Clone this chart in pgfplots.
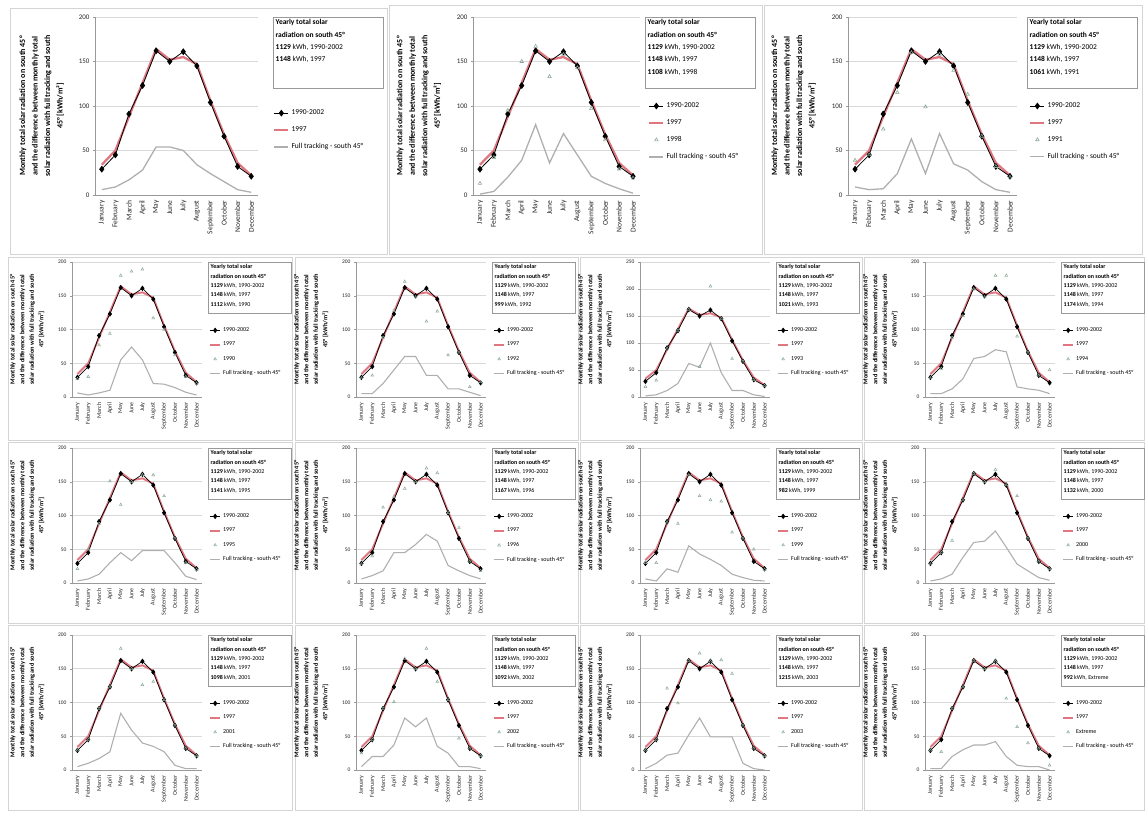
\documentclass[border=0pt]{standalone}
\usepackage{fontspec}
\setmainfont{Carlito}
\usepackage{pgfplots}
\pgfplotsset{compat=1.18}

\definecolor{redc}{RGB}{224,118,128}
\definecolor{thirdc}{RGB}{140,170,150}
\definecolor{fullc}{RGB}{175,175,175}
\definecolor{framec}{RGB}{212,212,212}

\tikzset{tbox/.style={draw=black!40, line width=0.4pt, anchor=north west, inner sep=2.5pt, fill=white}}

\pgfplotsset{
  base/.style={
    scale only axis, anchor=south west, clip=false,
    xmin=0.5, xmax=12.5, ymin=0, ymax=200,
    xtick={1,2,...,12},
    xticklabels={January,February,March,April,May,June,July,August,September,October,November,December},
    ytick={0,50,100,150,200},
    ymajorgrids, grid style={black!15, line width=0.5pt},
    axis x line*=bottom, axis y line*=left,
    axis line style={black!40, -},
    xtick style={draw=none},
    ytick style={black!40},
    tick align=outside, major tick length=2pt,
    x tick label style={rotate=90, anchor=east, text=black!85},
    y tick label style={text=black!85},
    /pgf/number format/assume math mode=true,
    legend cell align=left,
    legend style={draw=none, fill=none, inner sep=0pt, anchor=north west},
    ylabel={Monthly total solar radiation on south 45°\\and the difference between monthly total\\solar radiation with full tracking and south\\45° [kWh/m²]},
  },
  topp/.style={base, height=178pt,
    y tick label style={font=\fontsize{7}{8}\selectfont},
    x tick label style={font=\fontsize{7.5}{8}\selectfont},
    ylabel style={font=\fontsize{8}{12.5}\selectfont\bfseries, align=center, at={(rel axis cs:-0.17,0.5)}, anchor=south},
    legend style={font=\fontsize{7.5}{9}\selectfont, row sep=6.5pt},
    legend image code/.code={\draw[mark repeat=2,mark phase=2,##1] plot coordinates {(0pt,0pt) (7pt,0pt) (14pt,0pt)};},
    avgstyle/.style={black, line width=0.8pt, mark=diamond*, mark size=2.8pt, mark options={solid, fill=black}},
    redstyle/.style={redc, line width=2.3pt, no markers},
    thirdstyle/.style={only marks, thirdc, mark=triangle, mark size=2pt, mark options={line width=0.6pt}},
    fullstyle/.style={fullc, line width=1.3pt, no markers},
  },
  smallp/.style={base, width=130pt, height=135pt,
    y tick label style={font=\fontsize{5.5}{6}\selectfont},
    x tick label style={font=\fontsize{6}{6.5}\selectfont},
    ylabel style={font=\fontsize{6.3}{9.6}\selectfont\bfseries, align=center, at={(rel axis cs:-0.185,0.5)}, anchor=south},
    legend style={font=\fontsize{6}{7}\selectfont, row sep=5pt, at={(1,0.53)}, xshift=7pt},
    legend image code/.code={\draw[mark repeat=2,mark phase=2,##1] plot coordinates {(0pt,0pt) (5pt,0pt) (10pt,0pt)};},
    avgstyle/.style={black, line width=0.7pt, mark=diamond*, mark size=2.2pt, mark options={solid, fill=black}},
    redstyle/.style={redc, line width=1.9pt, no markers},
    thirdstyle/.style={only marks, thirdc, mark=triangle, mark size=1.6pt, mark options={line width=0.5pt}},
    fullstyle/.style={fullc, line width=1.1pt, no markers},
  },
}

\newcommand{\basicplots}{%
  \addplot[redstyle, forget plot] coordinates {(1,34) (2,50) (3,88) (4,126) (5,164) (6,152) (7,155) (8,147) (9,106) (10,68) (11,36) (12,22)};
  \addplot[avgstyle, forget plot] coordinates {(1,29) (2,45) (3,91) (4,123) (5,162) (6,150) (7,161) (8,145) (9,104) (10,66) (11,32) (12,21)};
}
\newcommand{\legthree}[1]{%
  \addlegendimage{avgstyle}\addlegendentry{1990-2002}
  \addlegendimage{redstyle}\addlegendentry{1997}
  \addlegendimage{thirdstyle}\addlegendentry{#1}
  \addlegendimage{fullstyle}\addlegendentry{Full tracking - south 45°}
}
\newcommand{\topbox}[1]{\parbox[t][66pt][t]{105pt}{\fontsize{7.5}{12.3}\selectfont\textbf{Yearly total solar}\\\textbf{radiation on south 45°}\\\textbf{1129} kWh, 1990-2002\\\textbf{1148} kWh, 1997#1}}
\newcommand{\smallbox}[2]{\parbox[t][46pt][t]{78pt}{\fontsize{6}{9.3}\selectfont\textbf{Yearly total solar}\\\textbf{radiation on south 45°}\\\textbf{1129} kWh, 1990-2002\\\textbf{1148} kWh, 1997\\\textbf{#1} kWh, #2}}

\begin{document}
\begin{tikzpicture}[x=1pt,y=1pt]
\useasboundingbox (0pt,0pt) rectangle (1145pt,813pt);
% panel frames
\draw[framec] (10pt,559pt) rectangle (387pt,805pt);
\draw[framec] (389pt,559pt) rectangle (762pt,808pt);
\draw[framec] (764pt,559pt) rectangle (1142pt,808pt);
\foreach \yb/\yt in {373/556,190/371,3/188}{
  \draw[framec] (8pt,\yb pt) rectangle (292pt,\yt pt);
  \draw[framec] (295pt,\yb pt) rectangle (578pt,\yt pt);
  \draw[framec] (580pt,\yb pt) rectangle (862pt,\yt pt);
  \draw[framec] (864pt,\yb pt) rectangle (1144pt,\yt pt);
}

% ---------- top row ----------
\begin{axis}[topp, at={(95pt,618pt)}, width=163pt, legend style={at={(1,0.49)}, xshift=15pt}]
\addlegendimage{avgstyle}\addlegendentry{1990-2002}
\addlegendimage{redstyle}\addlegendentry{1997}
\addlegendimage{fullstyle}\addlegendentry{Full tracking - south 45°}
\basicplots
\addplot[fullstyle, forget plot] coordinates {(1,6) (2,9) (3,17) (4,28) (5,54) (6,54) (7,50) (8,34) (9,24) (10,15) (11,6) (12,3)};
\node[tbox, xshift=15pt] at (rel axis cs:1,1) {\topbox{}};
\end{axis}

\begin{axis}[topp, at={(473pt,618pt)}, width=167pt, legend style={at={(1,0.53)}, xshift=8pt}]
\legthree{1998}
\basicplots
\addplot[thirdstyle, forget plot] coordinates {(1,13) (2,42) (3,95) (4,150) (5,167) (6,133) (7,158) (8,143) (9,97) (10,62) (11,29) (12,19)};
\addplot[fullstyle, forget plot] coordinates {(1,1) (2,4) (3,20) (4,39) (5,79) (6,36) (7,69) (8,45) (9,21) (10,13) (11,7) (12,2)};
\node[tbox, xshift=5pt] at (rel axis cs:1,1) {\topbox{\\\textbf{1108} kWh, 1998}};
\end{axis}

\begin{axis}[topp, at={(848pt,618pt)}, width=169pt, legend style={at={(1,0.53)}, xshift=12pt}]
\legthree{1991}
\basicplots
\addplot[thirdstyle, forget plot] coordinates {(1,39) (2,45) (3,74) (4,115) (5,160) (6,99) (7,158) (8,140) (9,113) (10,66) (11,32) (12,20)};
\addplot[fullstyle, forget plot] coordinates {(1,9) (2,6) (3,7) (4,24) (5,63) (6,24) (7,69) (8,35) (9,28) (10,15) (11,6) (12,3)};
\node[tbox, xshift=10pt] at (rel axis cs:1,1) {\topbox{\\\textbf{1061} kWh, 1991}};
\end{axis}

% ---------- row 2 ----------
\begin{axis}[smallp, at={(72pt,416pt)}]
\legthree{1990}
\basicplots
\addplot[thirdstyle, forget plot] coordinates {(1,27) (2,30) (3,77) (4,94) (5,180) (6,186) (7,189) (8,117) (9,100) (10,62) (11,30) (12,20)};
\addplot[fullstyle, forget plot] coordinates {(1,6) (2,3) (3,6) (4,10) (5,55) (6,74) (7,55) (8,20) (9,19) (10,14) (11,7) (12,3)};
\node[tbox, xshift=6pt] at (rel axis cs:1,1) {\smallbox{1112}{1990}};
\end{axis}

\begin{axis}[smallp, at={(356pt,416pt)}]
\legthree{1992}
\basicplots
\addplot[thirdstyle, forget plot] coordinates {(1,28) (2,32) (3,88) (4,128) (5,171) (6,148) (7,112) (8,127) (9,62) (10,66) (11,15) (12,22)};
\addplot[fullstyle, forget plot] coordinates {(1,5) (2,5) (3,20) (4,40) (5,60) (6,60) (7,32) (8,32) (9,12) (10,12) (11,7) (12,2)};
\node[tbox, xshift=6pt] at (rel axis cs:1,1) {\smallbox{999}{1992}};
\end{axis}

\begin{axis}[smallp, at={(640pt,416pt)}, ymax=250, ytick={0,50,100,150,200,250}]
\legthree{1993}
\basicplots
\addplot[thirdstyle, forget plot] coordinates {(1,19) (2,31) (3,90) (4,123) (5,162) (6,56) (7,205) (8,145) (9,71) (10,66) (11,32) (12,21)};
\addplot[fullstyle, forget plot] coordinates {(1,2) (2,4) (3,12) (4,25) (5,62) (6,55) (7,100) (8,45) (9,12) (10,12) (11,4) (12,1)};
\node[tbox, xshift=6pt] at (rel axis cs:1,1) {\smallbox{1021}{1993}};
\end{axis}

\begin{axis}[smallp, at={(925pt,416pt)}]
\legthree{1994}
\basicplots
\addplot[thirdstyle, forget plot] coordinates {(1,28) (2,42) (3,88) (4,120) (5,160) (6,148) (7,180) (8,180) (9,90) (10,66) (11,32) (12,40)};
\addplot[fullstyle, forget plot] coordinates {(1,5) (2,5) (3,12) (4,27) (5,57) (6,60) (7,70) (8,67) (9,15) (10,12) (11,10) (12,5)};
\node[tbox, xshift=6pt] at (rel axis cs:1,1) {\smallbox{1174}{1994}};
\end{axis}

% ---------- row 3 ----------
\begin{axis}[smallp, at={(72pt,230pt)}]
\legthree{1995}
\basicplots
\addplot[thirdstyle, forget plot] coordinates {(1,21) (2,50) (3,88) (4,151) (5,116) (6,150) (7,160) (8,160) (9,129) (10,66) (11,30) (12,20)};
\addplot[fullstyle, forget plot] coordinates {(1,3) (2,6) (3,13) (4,30) (5,45) (6,33) (7,48) (8,48) (9,48) (10,30) (11,10) (12,5)};
\node[tbox, xshift=6pt] at (rel axis cs:1,1) {\smallbox{1141}{1995}};
\end{axis}

\begin{axis}[smallp, at={(356pt,230pt)}]
\legthree{1996}
\basicplots
\addplot[thirdstyle, forget plot] coordinates {(1,28) (2,40) (3,112) (4,128) (5,140) (6,150) (7,170) (8,163) (9,104) (10,82) (11,32) (12,18)};
\addplot[fullstyle, forget plot] coordinates {(1,6) (2,11) (3,18) (4,45) (5,45) (6,57) (7,72) (8,62) (9,26) (10,18) (11,11) (12,6)};
\node[tbox, xshift=6pt] at (rel axis cs:1,1) {\smallbox{1167}{1996}};
\end{axis}

\begin{axis}[smallp, at={(640pt,230pt)}]
\legthree{1999}
\basicplots
\addplot[thirdstyle, forget plot] coordinates {(1,30) (2,30) (3,90) (4,88) (5,160) (6,129) (7,123) (8,121) (9,75) (10,66) (11,50) (12,20)};
\addplot[fullstyle, forget plot] coordinates {(1,6) (2,3) (3,21) (4,16) (5,55) (6,43) (7,35) (8,26) (9,13) (10,8) (11,4) (12,3)};
\node[tbox, xshift=6pt] at (rel axis cs:1,1) {\smallbox{982}{1999}};
\end{axis}

\begin{axis}[smallp, at={(925pt,230pt)}]
\legthree{2000}
\basicplots
\addplot[thirdstyle, forget plot] coordinates {(1,28) (2,45) (3,63) (4,123) (5,162) (6,150) (7,168) (8,145) (9,129) (10,66) (11,32) (12,21)};
\addplot[fullstyle, forget plot] coordinates {(1,3) (2,6) (3,13) (4,38) (5,60) (6,62) (7,77) (8,53) (9,28) (10,18) (11,8) (12,4)};
\node[tbox, xshift=6pt] at (rel axis cs:1,1) {\smallbox{1132}{2000}};
\end{axis}

% ---------- row 4 ----------
\begin{axis}[smallp, at={(72pt,43pt)}]
\legthree{2001}
\basicplots
\addplot[thirdstyle, forget plot] coordinates {(1,29) (2,45) (3,91) (4,123) (5,180) (6,150) (7,126) (8,131) (9,104) (10,66) (11,32) (12,21)};
\addplot[fullstyle, forget plot] coordinates {(1,5) (2,10) (3,17) (4,27) (5,84) (6,59) (7,40) (8,35) (9,27) (10,7) (11,2) (12,2)};
\node[tbox, xshift=6pt] at (rel axis cs:1,1) {\smallbox{1098}{2001}};
\end{axis}

\begin{axis}[smallp, at={(356pt,43pt)}]
\legthree{2002}
\basicplots
\addplot[thirdstyle, forget plot] coordinates {(1,25) (2,45) (3,91) (4,101) (5,165) (6,150) (7,180) (8,131) (9,104) (10,47) (11,32) (12,21)};
\addplot[fullstyle, forget plot] coordinates {(1,5) (2,20) (3,20) (4,37) (5,77) (6,64) (7,77) (8,35) (9,25) (10,5) (11,5) (12,2)};
\node[tbox, xshift=6pt] at (rel axis cs:1,1) {\smallbox{1092}{2002}};
\end{axis}

\begin{axis}[smallp, at={(640pt,43pt)}]
\legthree{2003}
\basicplots
\addplot[thirdstyle, forget plot] coordinates {(1,29) (2,45) (3,121) (4,99) (5,162) (6,173) (7,161) (8,163) (9,143) (10,66) (11,32) (12,21)};
\addplot[fullstyle, forget plot] coordinates {(1,2) (2,10) (3,22) (4,25) (5,52) (6,77) (7,49) (8,49) (9,49) (10,10) (11,2) (12,0)};
\node[tbox, xshift=6pt] at (rel axis cs:1,1) {\smallbox{1215}{2003}};
\end{axis}

\begin{axis}[smallp, at={(925pt,43pt)}]
\legthree{Extreme}
\basicplots
\addplot[thirdstyle, forget plot] coordinates {(1,29) (2,27) (3,91) (4,123) (5,162) (6,150) (7,161) (8,106) (9,64) (10,40) (11,32) (12,7)};
\addplot[fullstyle, forget plot] coordinates {(1,2) (2,2) (3,20) (4,30) (5,37) (6,37) (7,42) (8,20) (9,7) (10,5) (11,5) (12,0)};
\node[tbox, xshift=6pt] at (rel axis cs:1,1) {\smallbox{992}{Extreme}};
\end{axis}
\end{tikzpicture}
\end{document}
